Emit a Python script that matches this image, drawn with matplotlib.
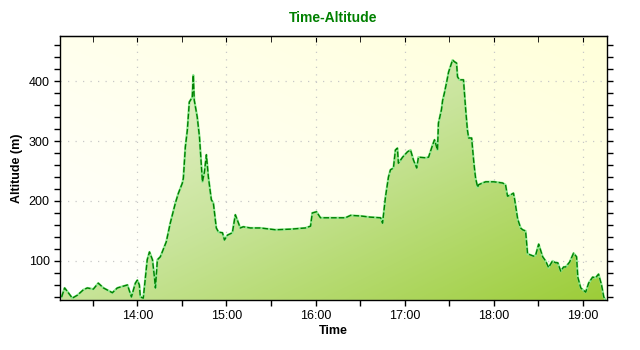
import numpy as np
import pandas as pd
import matplotlib
matplotlib.use("Agg")
import matplotlib.pyplot as plt
import matplotlib.dates as mdates
from matplotlib.colors import LinearSegmentedColormap
from matplotlib.ticker import MultipleLocator

plt.rcParams['font.family'] = ['Liberation Sans', 'DejaVu Sans']

# track points (time of day, altitude in m)
times = [
    "13:09:00", "13:11:00", "13:13:30", "13:16:10", "13:19:40", "13:23:40", "13:26:20",
    "13:30:20", "13:33:40", "13:37:10", "13:43:10", "13:46:30", "13:53:20", "13:56:00",
    "13:58:40", "14:00:00", "14:01:20", "14:02:00", "14:04:00", "14:06:40", "14:08:10",
    "14:10:10", "14:11:30", "14:12:10", "14:13:30", "14:15:30", "14:19:30", "14:22:10",
    "14:25:40", "14:27:40", "14:30:20", "14:31:00", "14:32:20", "14:33:40", "14:35:00",
    "14:37:00", "14:37:40", "14:38:20", "14:40:20", "14:41:50", "14:43:10", "14:43:50",
    "14:45:10", "14:46:30", "14:47:50", "14:49:50", "14:51:10", "14:53:10", "14:54:40",
    "14:57:20", "14:58:40", "15:00:40", "15:04:00", "15:06:00", "15:07:20", "15:09:20",
    "15:11:20", "15:16:10", "15:22:50", "15:33:00", "15:43:10", "15:53:10", "15:56:40",
    "15:57:50", "16:00:40", "16:03:20", "16:10:10", "16:20:10", "16:23:40", "16:30:20",
    "16:37:00", "16:43:50", "16:45:10", "16:47:10", "16:49:10", "16:50:30", "16:52:30",
    "16:53:50", "16:55:10", "16:55:50", "16:58:40", "17:02:00", "17:04:00", "17:06:00",
    "17:08:10", "17:09:20", "17:14:10", "17:16:10", "17:18:50", "17:20:10", "17:22:10",
    "17:22:50", "17:24:50", "17:25:40", "17:26:50", "17:28:20", "17:29:40", "17:32:20",
    "17:33:40", "17:35:00", "17:35:40", "17:37:00", "17:39:40", "17:41:10", "17:42:20",
    "17:43:10", "17:45:10", "17:46:30", "17:47:10", "17:47:50", "17:49:10", "17:49:50",
    "17:52:30", "17:54:40", "18:00:00", "18:06:00", "18:08:00", "18:09:20", "18:11:20",
    "18:13:20", "18:14:10", "18:16:10", "18:18:10", "18:19:30", "18:21:30", "18:22:50",
    "18:24:50", "18:26:50", "18:28:20", "18:30:20", "18:33:00", "18:35:00", "18:37:00",
    "18:39:40", "18:41:40", "18:43:10", "18:45:10", "18:47:10", "18:48:30", "18:51:10",
    "18:53:50", "18:55:50", "18:56:40", "18:58:40", "19:02:00", "19:04:00", "19:06:40",
    "19:08:40", "19:10:40", "19:12:40", "19:14:10", "19:15:20",
]
altitude = [
    40, 55, 47, 38, 43, 52, 55,
    53, 63, 55, 47, 55, 60, 40,
    63, 68, 60, 40, 38, 102, 115,
    102, 73, 55, 102, 107, 132, 163,
    197, 213, 230, 238, 290, 318, 365,
    373, 410, 368, 340, 307, 257, 232,
    248, 277, 240, 202, 197, 155, 148,
    147, 135, 143, 147, 177, 168, 155,
    157, 155, 155, 152, 153, 155, 158,
    180, 182, 172, 172, 172, 176, 175,
    173, 172, 163, 207, 240, 252, 255,
    285, 288, 263, 273, 282, 285, 268,
    255, 273, 272, 273, 293, 302, 285,
    330, 352, 368, 380, 398, 415, 435,
    432, 430, 407, 402, 402, 352, 318,
    305, 305, 268, 252, 238, 223, 227,
    230, 232, 232, 230, 227, 208, 210,
    213, 202, 170, 155, 152, 150, 112,
    110, 108, 110, 128, 107, 100, 89,
    100, 97, 97, 83, 90, 90, 98,
    113, 107, 73, 55, 48, 63, 73,
    72, 78, 60, 40, 35,
]

t = mdates.date2num(pd.to_datetime(["2000-01-01 " + s for s in times]))
x0 = mdates.date2num(pd.Timestamp("2000-01-01 13:08:00"))
x1 = mdates.date2num(pd.Timestamp("2000-01-01 19:16:10"))
y0, y1 = 35, 475

fig = plt.figure(figsize=(6.4, 3.5), dpi=100)
ax = fig.add_axes([0.094, 0.143, 0.854, 0.754])
ax.set_xlim(x0, x1)
ax.set_ylim(y0, y1)

# background gradient, white lower-left to pale yellow upper-right
yy, xx = np.mgrid[0:1:200j, 0:1:200j]
bg = LinearSegmentedColormap.from_list("bg", ["#FFFFFF", "#FFFFDA"])
ax.imshow((xx + yy) / 2, cmap=bg, vmin=0, vmax=1, extent=(x0, x1, y0, y1),
          origin='lower', aspect='auto', zorder=0, interpolation='bilinear')

# area under the track, diagonal green gradient
poly = ax.fill_between(t, altitude, y0, color='none', lw=0)
fillcm = LinearSegmentedColormap.from_list("fill", ["#F4F8E2", "#C8E49A", "#9CCD38"])
im = ax.imshow((xx + (1 - yy)) / 2, cmap=fillcm, vmin=0, vmax=1, extent=(x0, x1, y0, y1),
               origin='lower', aspect='auto', zorder=1, interpolation='bilinear')
im.set_clip_path(poly.get_paths()[0], transform=ax.transData)

ax.plot(t, altitude, color='#8FE88F', lw=1.6, zorder=2)
ax.plot(t, altitude, color='#008000', lw=1.0, ls=(0, (4, 1.5)), zorder=3)

ax.set_axisbelow(True)
ax.grid(True, which='major', color='#C8C8C8', ls=(0, (1, 5)), lw=0.9)

ax.xaxis.set_major_locator(mdates.HourLocator())
ax.xaxis.set_minor_locator(mdates.MinuteLocator(byminute=[30]))
ax.xaxis.set_major_formatter(mdates.DateFormatter("%H:%M"))
ax.yaxis.set_major_locator(MultipleLocator(100))
ax.yaxis.set_minor_locator(MultipleLocator(20))
ax.tick_params(which='both', direction='out', right=True, labelsize=9, width=1)
ax.tick_params(which='major', length=4)
ax.tick_params(which='minor', length=4)

top = ax.secondary_xaxis('top')
top.xaxis.set_major_locator(mdates.HourLocator())
top.xaxis.set_minor_locator(mdates.MinuteLocator(byminute=[30]))
top.tick_params(which='both', direction='in', length=4, labeltop=False)

for s in ax.spines.values():
    s.set_linewidth(1)

ax.set_xlabel("Time", fontsize=9, fontweight='bold', labelpad=2)
ax.set_ylabel("Altitude (m)", fontsize=9, fontweight='bold', labelpad=4)
fig.text(0.521, 0.948, "Time-Altitude", color='#008000', fontsize=10,
         fontweight='bold', ha='center', va='center')

fig.savefig("out.png", dpi=100)
